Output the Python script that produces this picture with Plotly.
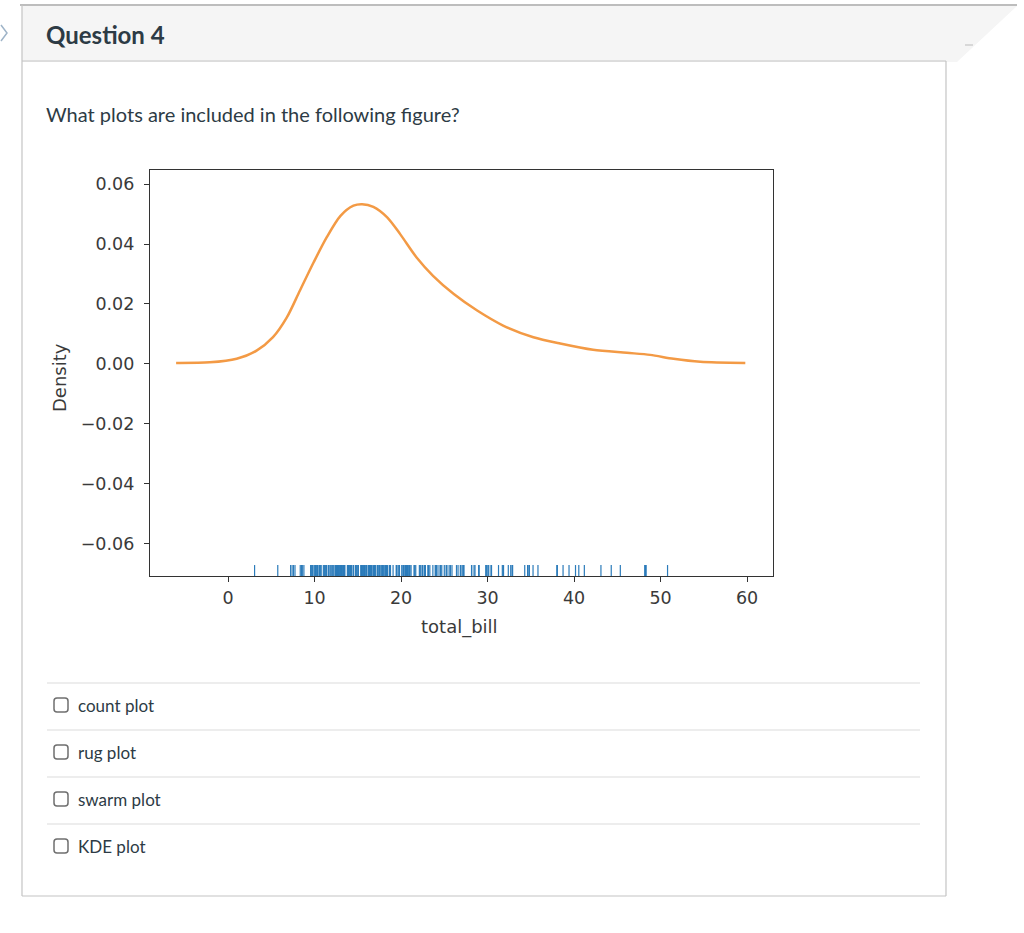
import plotly.graph_objects as go

W, H = 1024, 933

# ---------------- data ----------------
# KDE curve (total_bill -> density)
kde_x = [-6.0, -2.1, 1.0, 3.3, 5.2, 6.8, 8.3, 9.9, 11.4, 13.0, 14.5, 15.5, 16.8,
         18.4, 19.9, 21.8, 23.7, 26.1, 28.8, 31.8, 35.3, 38.4, 42.2, 46.1, 48.8,
         51.5, 54.6, 59.8]
kde_y = [0.0003, 0.0005, 0.0017, 0.0044, 0.0089, 0.0155, 0.0244, 0.0339, 0.0422,
         0.0494, 0.0528, 0.0533, 0.0524, 0.0489, 0.0433, 0.0355, 0.0294, 0.0233,
         0.0178, 0.0128, 0.0089, 0.0068, 0.0047, 0.0037, 0.0030, 0.0017, 0.0007,
         0.0003]

# rug values (total_bill)
total_bill = [
    16.99, 10.34, 21.01, 23.68, 24.59, 25.29, 8.77, 26.88, 15.04, 14.78, 10.27, 35.26,
    15.42, 18.43, 14.83, 21.58, 10.33, 16.29, 16.97, 20.65, 17.92, 20.29, 15.77, 39.42,
    19.82, 17.81, 13.37, 12.69, 21.70, 19.65, 9.55, 18.35, 15.06, 20.69, 17.78, 24.06,
    16.31, 16.93, 18.69, 31.27, 16.04, 17.46, 13.94, 9.68, 30.40, 18.29, 22.23, 32.40,
    28.55, 18.04, 12.54, 10.29, 34.81, 9.94, 25.56, 19.49, 38.01, 26.41, 11.24, 48.27,
    20.29, 13.81, 11.02, 18.29, 17.59, 20.08, 16.45, 3.07, 20.23, 15.01, 12.02, 17.07,
    26.86, 25.28, 14.73, 10.51, 17.92, 27.20, 22.76, 17.29, 19.44, 16.66, 10.07, 32.68,
    15.98, 34.83, 13.03, 18.28, 24.71, 21.16, 28.97, 22.49, 5.75, 16.32, 22.75, 40.17,
    27.28, 12.03, 21.01, 12.46, 11.35, 15.38, 44.30, 22.42, 20.92, 15.36, 20.49, 25.21,
    18.24, 14.31, 14.00, 7.25, 38.07, 23.95, 25.71, 17.31, 29.93, 10.65, 12.43, 24.08,
    11.69, 13.42, 14.26, 15.95, 12.48, 29.80, 8.52, 14.52, 11.38, 22.82, 19.08, 20.27,
    11.17, 12.26, 18.26, 8.51, 10.33, 14.15, 16.00, 13.16, 17.47, 34.30, 41.19, 27.05,
    16.43, 8.35, 18.64, 11.87, 9.78, 7.51, 14.07, 13.13, 17.26, 24.55, 19.77, 29.85,
    48.17, 25.00, 13.39, 16.49, 21.50, 12.66, 16.21, 13.81, 17.51, 24.52, 20.76, 31.71,
    10.59, 10.63, 50.81, 15.81, 7.25, 31.85, 16.82, 32.90, 17.89, 14.48, 9.60, 34.63,
    34.65, 23.33, 45.35, 23.17, 40.55, 20.69, 20.90, 30.46, 18.15, 23.10, 15.69, 19.81,
    28.44, 15.48, 16.58, 7.56, 10.34, 43.11, 13.00, 13.51, 18.71, 12.74, 13.00, 16.40,
    20.53, 16.47, 26.59, 38.73, 24.27, 12.76, 30.06, 25.89, 48.33, 13.27, 28.17, 12.90,
    28.15, 11.59, 7.74, 30.14, 12.16, 13.42, 8.58, 15.98, 13.42, 16.27, 10.09, 20.45,
    13.28, 22.12, 24.01, 15.69, 11.61, 10.77, 15.53, 10.07, 12.60, 32.83, 35.83, 29.03,
    27.18, 22.67, 17.82, 18.78,
]

x_tickvals = [0, 10, 20, 30, 40, 50, 60]
x_ticktext = ["0", "10", "20", "30", "40", "50", "60"]
y_tickvals = [-0.06, -0.04, -0.02, 0.0, 0.02, 0.04, 0.06]
y_ticktext = ["\u22120.06", "\u22120.04", "\u22120.02", "0.00", "0.02", "0.04", "0.06"]

question_title = "Question 4"
question_text = "What plots are included in the following figure?"
options = ["count plot", "rug plot", "swarm plot", "KDE plot"]
x_label = "total_bill"
y_label = "Density"

# ---------------- helpers ----------------
def px(x):
    return x / W

def py(y):
    return 1 - y / H

TEXT = "#2d3b45"
BORDER = "#c4c4c4"
AX = "#333333"
LBL = "#3a3a3a"
CHART_FONT = "DejaVu Sans"

fig = go.Figure()

# rug
rx, ry = [], []
for v in total_bill:
    rx += [v, v, None]
    ry += [0, 0.027, None]
fig.add_trace(go.Scatter(x=rx, y=ry, mode="lines", yaxis="y2",
                         line=dict(color="#2b7bba", width=1.2), hoverinfo="skip",
                         showlegend=False))
# kde
fig.add_trace(go.Scatter(x=kde_x, y=kde_y, mode="lines",
                         line=dict(color="#f39a45", width=2.5, shape="spline", smoothing=0.8),
                         showlegend=False))

fig.update_layout(
    width=W, height=H,
    margin=dict(l=0, r=0, t=0, b=0),
    paper_bgcolor="white", plot_bgcolor="white",
    xaxis=dict(domain=[px(150), px(773)], range=[-9.02, 63.0],
               tickvals=x_tickvals, ticktext=x_ticktext,
               showgrid=False, zeroline=False, showline=True, mirror=True,
               linecolor=AX, linewidth=1.3, ticks="outside", ticklen=5,
               tickcolor=AX, tickwidth=1.2, ticklabelstandoff=1,
               tickfont=dict(family=CHART_FONT, size=17.5, color=LBL)),
    yaxis=dict(domain=[py(576), py(170)], range=[-0.0708, 0.0647],
               tickvals=y_tickvals, ticktext=y_ticktext,
               showgrid=False, zeroline=False, showline=True, mirror=True,
               linecolor=AX, linewidth=1.3, ticks="outside", ticklen=5,
               tickcolor=AX, tickwidth=1.2, ticklabelstandoff=6,
               tickfont=dict(family=CHART_FONT, size=17.5, color=LBL)),
    yaxis2=dict(domain=[py(576), py(170)], range=[0, 1], overlaying="y",
                visible=False, fixedrange=True),
)

shapes = []
# header background (with slanted right side)
shapes.append(dict(type="path", xref="paper", yref="paper",
                   path=f"M {px(22)},{py(6)} L {px(1017)},{py(6)} L {px(957)},{py(62)} L {px(22)},{py(62)} Z",
                   fillcolor="#f5f5f5", line=dict(width=0), layer="below"))
# top border line
shapes.append(dict(type="line", xref="paper", yref="paper",
                   x0=px(20), x1=px(1017), y0=py(5), y1=py(5),
                   line=dict(color="#bdbdbd", width=2)))
# header bottom line
shapes.append(dict(type="line", xref="paper", yref="paper",
                   x0=px(22), x1=px(946), y0=py(61), y1=py(61),
                   line=dict(color=BORDER, width=1)))
# content box borders
shapes.append(dict(type="line", xref="paper", yref="paper",
                   x0=px(22), x1=px(22), y0=py(5), y1=py(896),
                   line=dict(color=BORDER, width=1.2)))
shapes.append(dict(type="line", xref="paper", yref="paper",
                   x0=px(946), x1=px(946), y0=py(61), y1=py(896),
                   line=dict(color=BORDER, width=1.2)))
shapes.append(dict(type="line", xref="paper", yref="paper",
                   x0=px(22), x1=px(946), y0=py(896), y1=py(896),
                   line=dict(color=BORDER, width=1.2)))
# small dash at right of header
shapes.append(dict(type="line", xref="paper", yref="paper",
                   x0=px(965), x1=px(973), y0=py(45), y1=py(45),
                   line=dict(color="#bbbbbb", width=1)))
# chevron at far left
shapes.append(dict(type="path", xref="paper", yref="paper",
                   path=f"M {px(1)},{py(25)} L {px(7)},{py(33)} L {px(1)},{py(41)}",
                   line=dict(color="#9fb4c8", width=1.5)))

annotations = []
annotations.append(dict(text=question_title, x=px(44), y=py(34), xref="paper", yref="paper",
                        xanchor="left", yanchor="middle", showarrow=False,
                        font=dict(family="Lato", size=24, color=TEXT, weight="bold")))
annotations.append(dict(text=question_text, x=px(44), y=py(114), xref="paper", yref="paper",
                        xanchor="left", yanchor="middle", showarrow=False,
                        font=dict(family="Lato", size=20, color=TEXT)))

sep_y = [683, 730, 777, 824]
for i, opt in enumerate(options):
    ly = sep_y[i]
    cy = ly + 22
    shapes.append(dict(type="line", xref="paper", yref="paper",
                       x0=px(47), x1=px(920), y0=py(ly), y1=py(ly),
                       line=dict(color="#dcdcdc", width=1.2)))
    r = 3
    x0, x1, y0, y1 = 54, 68, cy - 7, cy + 7
    path = (f"M {px(x0 + r)},{py(y0)} L {px(x1 - r)},{py(y0)} "
            f"Q {px(x1)},{py(y0)} {px(x1)},{py(y0 + r)} L {px(x1)},{py(y1 - r)} "
            f"Q {px(x1)},{py(y1)} {px(x1 - r)},{py(y1)} L {px(x0 + r)},{py(y1)} "
            f"Q {px(x0)},{py(y1)} {px(x0)},{py(y1 - r)} L {px(x0)},{py(y0 + r)} "
            f"Q {px(x0)},{py(y0)} {px(x0 + r)},{py(y0)} Z")
    shapes.append(dict(type="path", xref="paper", yref="paper", path=path,
                       line=dict(color="#6f6f6f", width=1.5), fillcolor="white"))
    annotations.append(dict(text=opt, x=px(76), y=py(cy), xref="paper", yref="paper",
                            xanchor="left", yanchor="middle", showarrow=False,
                            font=dict(family="Lato", size=17, color=TEXT)))

# axis titles
annotations.append(dict(text=x_label, x=px(459), y=py(627), xref="paper", yref="paper",
                        xanchor="center", yanchor="middle", showarrow=False,
                        font=dict(family=CHART_FONT, size=18, color=LBL)))
annotations.append(dict(text=y_label, x=px(60), y=py(378), xref="paper", yref="paper",
                        xanchor="center", yanchor="middle", showarrow=False, textangle=-90,
                        font=dict(family=CHART_FONT, size=18, color=LBL)))

fig.update_layout(shapes=shapes, annotations=annotations)
fig.write_html("out.html")
